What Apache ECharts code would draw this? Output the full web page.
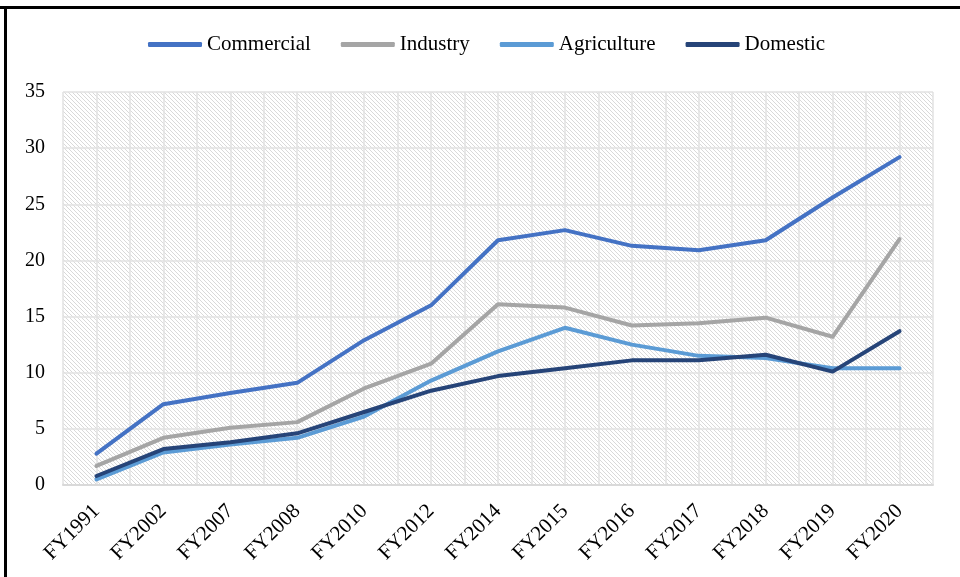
<!DOCTYPE html>
<html><head><meta charset="utf-8">
<script src="https://cdn.jsdelivr.net/npm/echarts@6/dist/echarts.min.js"></script>
<style>html,body{margin:0;padding:0;background:#fff}#c{width:960px;height:577px}</style>
</head><body><div id="c"></div>
<script>
const categories = ['FY1991','FY2002','FY2007','FY2008','FY2010','FY2012','FY2014','FY2015','FY2016','FY2017','FY2018','FY2019','FY2020'];
const commercial  = [2.8, 7.2, 8.2, 9.1, 12.9, 16.0, 21.8, 22.7, 21.3, 20.9, 21.8, 25.6, 29.2];
const industry    = [1.7, 4.2, 5.1, 5.6, 8.6, 10.8, 16.1, 15.8, 14.2, 14.4, 14.9, 13.2, 21.9];
const agriculture = [0.5, 2.9, 3.6, 4.2, 6.1, 9.3, 11.9, 14.0, 12.5, 11.5, 11.3, 10.4, 10.4];
const domestic    = [0.8, 3.2, 3.8, 4.6, 6.5, 8.4, 9.7, 10.4, 11.1, 11.1, 11.6, 10.1, 13.7];
const seriesNames = ['Commercial','Industry','Agriculture','Domestic'];
const colors = ['#4472C4','#A5A5A5','#5B9BD5','#264478'];
const yTicks = {min:0, max:35, interval:5};

// hatch pattern
const pc = document.createElement('canvas');
pc.width = 4; pc.height = 4;
const g = pc.getContext('2d');
g.fillStyle = '#ffffff'; g.fillRect(0,0,4,4);
g.fillStyle = '#d9d9d9';
for (let i = 0; i < 4; i++) g.fillRect(i, i, 1, 1);

const font = '"Liberation Serif", "Times New Roman", serif';
const chart = echarts.init(document.getElementById('c'));
const data = [commercial, industry, agriculture, domestic];
chart.setOption({
  animation: false,
  textStyle: {fontFamily: font},
  graphic: [
    {type:'line', shape:{x1:0, y1:7.5, x2:960, y2:7.5}, style:{stroke:'#000', lineWidth:3}},
    {type:'line', shape:{x1:5.5, y1:6, x2:5.5, y2:577}, style:{stroke:'#000', lineWidth:3}}
  ],
  legend: {
    left: 148, top: 34, padding: 0,
    itemWidth: 54, itemHeight: 5, itemGap: 30,
    icon: 'roundRect',
    textStyle: {fontFamily: font, fontSize: 21, color: '#000'},
    data: seriesNames
  },
  grid: {
    left: 63, right: 27, top: 92, bottom: 92,
    show: true, borderWidth: 0,
    backgroundColor: {image: pc, repeat: 'repeat'}
  },
  xAxis: [{
    type: 'category', data: categories, boundaryGap: true,
    axisLine: {show: true, lineStyle: {color: '#d9d9d9', width: 2}},
    axisTick: {show: false},
    splitLine: {show: false},
    axisLabel: {rotate: 45, fontFamily: font, fontSize: 21, color: '#000', margin: 23, interval: 0}
  }, {
    type: 'value', min: 0, max: 26, interval: 1, position: 'bottom',
    axisLine: {show: false}, axisTick: {show: false}, axisLabel: {show: false},
    splitLine: {show: true, lineStyle: {color: '#e2e2e2', width: 1.5}}
  }],
  yAxis: {
    type: 'value', min: yTicks.min, max: yTicks.max, interval: yTicks.interval,
    axisLine: {show: false}, axisTick: {show: false},
    axisLabel: {fontFamily: font, fontSize: 20, color: '#000', margin: 18},
    splitLine: {show: true, lineStyle: {color: '#e2e2e2', width: 1.5}}
  },
  series: seriesNames.map((n, i) => ({
    name: n, type: 'line', data: data[i], xAxisIndex: 0,
    symbol: 'none', smooth: false,
    lineStyle: {color: colors[i], width: 4, cap: 'round', join: 'round'},
    itemStyle: {color: colors[i]}
  }))
});
</script></body></html>
